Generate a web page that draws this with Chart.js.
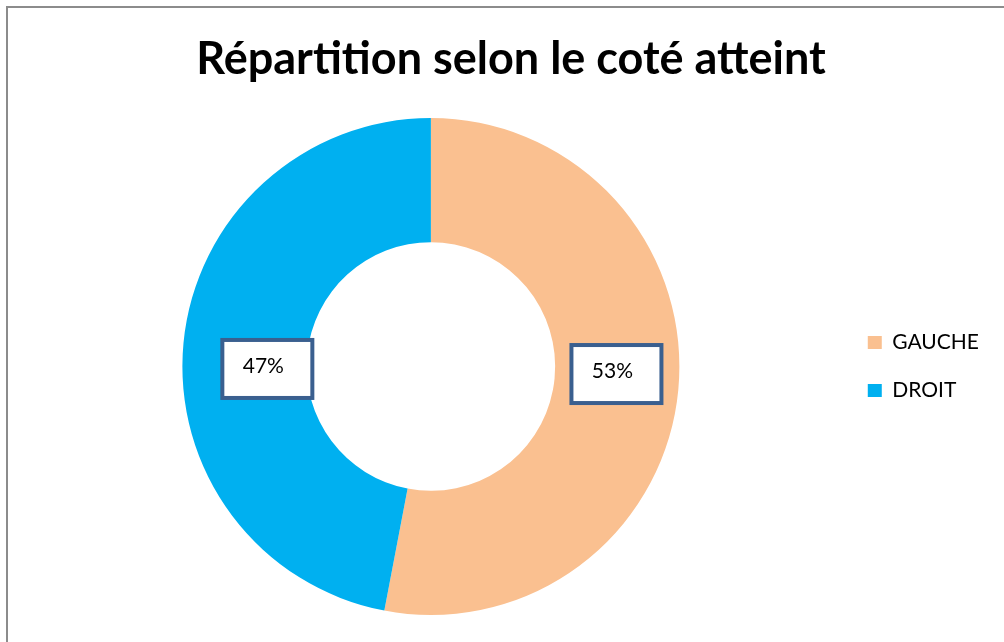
<!DOCTYPE html>
<html lang="fr">
<head>
  <meta charset="UTF-8" />
  <title>Répartition selon le coté atteint</title>
  <script src="https://cdn.jsdelivr.net/npm/chart.js"></script>
  <style>
    body {
      margin: 0;
      background: #fff;
      font-family: 'Lato', sans-serif;
    }
    .frame {
      position: absolute;
      left: 6px;
      top: 6px;
      width: 998px;
      height: 636px;
      border-left: 2px solid #8c8c8c;
      border-top: 2px solid #8c8c8c;
    }
    h2 {
      position: absolute;
      left: 18px;
      top: 28px;
      width: 986px;
      margin: 0;
      text-align: center;
      font-family: 'Lato', sans-serif;
      font-weight: bold;
      font-size: 45px;
      line-height: 58px;
      color: #000;
    }
    .wrap {
      position: absolute;
      left: 0;
      top: 0;
      width: 1004px;
      height: 642px;
    }
  </style>
</head>
<body>
  <div class="frame"></div>
  <div class="wrap"><canvas id="pie" width="1004" height="642"></canvas></div>
  <h2>Répartition selon le coté atteint</h2>

  <script>
  const categories = ['GAUCHE', 'DROIT'];
  const shares = [53, 47];
  const sliceColors = ['#FAC090', '#00B0F0'];
  const labelNudge = [[0, -10], [22, 20]];

  // Excel-style boxed percentage labels
  const boxLabels = {
    id: 'boxLabels',
    afterDatasetsDraw(chart) {
      const ctx = chart.ctx;
      const meta = chart.getDatasetMeta(0);
      meta.data.forEach((arc, i) => {
        const pos = arc.tooltipPosition();
        const x = pos.x + labelNudge[i][0];
        const y = pos.y + labelNudge[i][1];
        const w = 90, h = 58;
        ctx.save();
        ctx.fillStyle = '#fff';
        ctx.fillRect(x - w / 2, y - h / 2, w, h);
        ctx.lineWidth = 4;
        ctx.strokeStyle = '#3A5F8F';
        ctx.strokeRect(x - w / 2, y - h / 2, w, h);
        ctx.fillStyle = '#000';
        ctx.font = '21px Lato';
        ctx.textAlign = 'center';
        ctx.textBaseline = 'middle';
        ctx.fillText(shares[i] + '%', x - 4, y - 3);
        ctx.restore();
      });
    }
  };

  new Chart(document.getElementById('pie'), {
    type: 'doughnut',
    data: {
      labels: categories,
      datasets: [{
        data: shares,
        backgroundColor: sliceColors,
        borderWidth: 0,
        hoverOffset: 0
      }]
    },
    options: {
      responsive: false,
      animation: false,
      cutout: '50%',
      layout: {
        padding: { left: 21, right: 15, top: 118, bottom: 27 }
      },
      plugins: {
        legend: {
          position: 'right',
          fullSize: false,
          labels: {
            color: '#000',
            font: { family: 'Lato', size: 21 },
            boxWidth: 14,
            boxHeight: 13,
            padding: 27
          }
        },
        tooltip: { enabled: false }
      }
    },
    plugins: [boxLabels]
  });
  </script>
</body>
</html>
